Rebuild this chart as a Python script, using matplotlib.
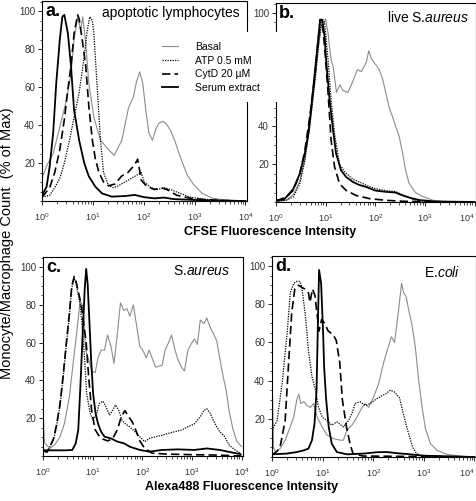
import numpy as np
import matplotlib.pyplot as plt
from matplotlib.ticker import LogLocator, MultipleLocator, NullFormatter

plt.rcParams['font.family'] = ['Liberation Sans', 'DejaVu Sans']
plt.rcParams['mathtext.fontset'] = 'custom'
plt.rcParams['mathtext.rm'] = 'Liberation Sans'
plt.rcParams['mathtext.it'] = 'Liberation Sans:italic'
plt.rcParams['mathtext.default'] = 'regular'

series_labels = ["Basal", "ATP 0.5 mM", "CytD 20 \u00b5M", "Serum extract"]
panel_letters = ["a.", "b.", "c.", "d."]
x_ticks = [1, 10, 100, 1000, 10000]

# all x values are log10 of fluorescence intensity, y is % of max
# ---- panel a: apoptotic lymphocytes (CFSE)
a_basal_lx = [0, 0.1, 0.22, 0.35, 0.48, 0.57, 0.63, 0.70, 0.76, 0.8, 0.86, 0.92, 1.02, 1.15, 1.31, 1.42, 1.57, 1.70,
              1.80, 1.85, 1.92, 1.98, 2.04, 2.1, 2.17, 2.24, 2.3, 2.38, 2.46, 2.53, 2.62, 2.72, 2.85, 2.97, 3.15, 3.35, 3.6, 4.0]
a_basal_y = [12, 19, 25, 39, 53, 67, 85, 97, 90, 97, 83, 62, 44, 32, 27, 24, 32, 49,
             55, 62, 68, 62, 48, 36, 32, 38, 41, 42, 40, 37, 31, 23, 14, 9, 4, 1.5, 0.5, 0]
a_atp_lx = [0, 0.15, 0.25, 0.35, 0.44, 0.54, 0.63, 0.73, 0.83, 0.89, 0.94, 0.99, 1.02, 1.08, 1.15, 1.21, 1.31, 1.40,
            1.5, 1.63, 1.76, 1.95, 2.01, 2.14, 2.27, 2.40, 2.53, 2.72, 2.91, 3.17, 3.5, 4.0]
a_atp_y = [2, 3, 7, 12, 20, 32, 44, 57, 76, 90, 97, 95, 88, 62, 32, 15, 8, 7,
           8, 10, 12, 15, 10, 7, 6, 7, 6, 4, 2, 1, 0.3, 0]
a_cytd_lx = [0, 0.15, 0.25, 0.35, 0.44, 0.5, 0.57, 0.63, 0.70, 0.73, 0.79, 0.86, 0.92, 0.99, 1.05, 1.12, 1.21, 1.31,
             1.44, 1.56, 1.69, 1.82, 1.88, 1.92, 1.95, 2.05, 2.21, 2.33, 2.46, 2.65, 2.91, 3.17, 3.5, 4.0]
a_cytd_y = [2, 7, 15, 27, 43, 57, 71, 88, 98, 96, 85, 71, 50, 32, 22, 15, 10, 8,
            9, 13, 15, 19, 22, 16, 11, 8, 6, 7, 6, 3, 1.5, 0.8, 0.3, 0]
a_serum_lx = [0, 0.09, 0.15, 0.22, 0.28, 0.35, 0.40, 0.44, 0.51, 0.57, 0.63, 0.73, 0.83, 0.92, 1.05, 1.18, 1.37,
              1.63, 1.82, 2.01, 2.21, 2.40, 2.59, 3.04, 3.5, 4.0]
a_serum_y = [3, 7.5, 18, 36, 62, 85, 97, 98, 88, 71, 48, 32, 20, 13, 7.5, 4, 2.3,
             2.6, 3.2, 2, 1.4, 1.8, 1, 0.5, 0.2, 0]

# ---- panel b: live S.aureus (CFSE)
b_basal_lx = [0, 0.21, 0.35, 0.48, 0.58, 0.68, 0.78, 0.85, 0.91, 0.96, 1.0, 1.05, 1.11, 1.15, 1.22, 1.29, 1.35, 1.45,
              1.55, 1.64, 1.72, 1.82, 1.87, 1.92, 1.97, 2.03, 2.08, 2.15, 2.21, 2.28, 2.35, 2.41, 2.48, 2.55, 2.61,
              2.68, 2.81, 2.95, 3.15, 3.35, 4.0]
b_basal_y = [0, 1, 4, 11, 22, 40, 63, 81, 93, 94, 97, 89, 75, 72, 58, 62, 59, 58,
             64, 70, 69, 74, 80, 76, 74, 72, 70, 65, 58, 50, 45, 40, 35, 26, 17,
             10, 5, 3, 1, 0.3, 0]
b_atp_lx = [0, 0.21, 0.35, 0.48, 0.58, 0.68, 0.78, 0.87, 0.93, 0.98, 1.05, 1.11, 1.18, 1.28, 1.38, 1.55, 1.68, 1.85,
            2.01, 2.21, 2.41, 2.61, 2.81, 3.08, 4.0]
b_atp_y = [0.5, 1, 2.7, 9.7, 22, 40, 63, 86, 97, 95, 75, 54, 36, 20, 16, 12, 10.6, 8.5,
           7, 6, 5.5, 3, 1, 0, 0]
b_cytd_lx = [0, 0.21, 0.35, 0.48, 0.58, 0.68, 0.78, 0.85, 0.89, 0.93, 0.98, 1.05, 1.11, 1.18, 1.28, 1.41, 1.61, 1.88,
             2.21, 2.55, 3.0, 4.0]
b_cytd_y = [0.5, 2.7, 6.2, 15, 27, 45, 66, 86, 96.5, 95.6, 82, 57.5, 32.7, 18.6, 9.7, 6.2, 3.5, 1.8,
            0.9, 0.4, 0.1, 0]
b_serum_lx = [0, 0.15, 0.21, 0.35, 0.48, 0.58, 0.65, 0.71, 0.78, 0.85, 0.89, 0.93, 0.98, 1.01, 1.08, 1.15, 1.21, 1.31,
              1.41, 1.55, 1.68, 1.81, 2.01, 2.21, 2.41, 2.53, 2.73, 2.9, 3.2, 4.0]
b_serum_y = [0.9, 1.2, 2.7, 7, 15, 25.7, 36, 50, 68, 86, 96.5, 96.5, 87.6, 75, 54, 38, 25.7, 16.8,
             13.3, 10.6, 9, 8, 6, 5.4, 5, 3.7, 2, 1, 0.3, 0]

# ---- panel c: S.aureus (Alexa488)
c_basal_lx = [0, 0.03, 0.14, 0.24, 0.34, 0.43, 0.53, 0.59, 0.66, 0.72, 0.75, 0.79, 0.82, 0.86, 0.92, 0.98, 1.05, 1.11,
              1.17, 1.24, 1.30, 1.37, 1.43, 1.50, 1.56, 1.63, 1.69, 1.75, 1.82, 1.88, 1.95, 2.01, 2.08, 2.14, 2.21,
              2.27, 2.40, 2.46, 2.53, 2.59, 2.66, 2.72, 2.79, 2.85, 2.92, 2.98, 3.05, 3.11, 3.17, 3.24, 3.30, 3.37,
              3.43, 3.50, 3.56, 3.63, 3.69, 3.75, 3.82, 3.9, 4.0]
c_basal_y = [25, 7, 4, 6, 10, 17, 31, 45, 61, 75, 82, 80, 74, 56, 51, 45, 44, 52,
             56, 56, 64, 58, 49, 65, 81, 77, 78, 74, 80, 70, 58, 56, 52, 56, 51,
             47, 48, 56, 60, 64, 56, 51, 47, 45, 56, 59, 62, 59, 72, 70, 73, 68,
             65, 61, 52, 42, 35, 24, 15, 8, 5]
c_atp_lx = [0, 0.08, 0.14, 0.21, 0.27, 0.34, 0.40, 0.46, 0.53, 0.58, 0.63, 0.67, 0.72, 0.75, 0.79, 0.84, 0.88, 0.95,
            1.01, 1.08, 1.14, 1.21, 1.27, 1.34, 1.40, 1.46, 1.53, 1.59, 1.66, 1.72, 1.82, 1.95, 2.05, 2.14, 2.27,
            2.40, 2.53, 2.66, 2.79, 2.92, 3.05, 3.17, 3.24, 3.30, 3.37, 3.43, 3.50, 3.56, 3.66, 3.75, 3.88, 3.98]
c_atp_y = [3, 2, 5, 8.5, 15.5, 26, 40, 56, 74, 89, 94, 91, 84, 80, 68, 51, 33, 22.5,
           19, 22.5, 28, 29, 26, 21.7, 24, 27, 24, 19, 17, 16, 13.7, 10.2, 7.6, 9.3, 10.2,
           11, 12, 12.9, 13.7, 15.5, 17, 20.8, 24, 25, 22.5, 19, 15.5, 12.9, 10.2, 5.8, 3, 1.4]
c_cytd_lx = [0, 0.08, 0.14, 0.21, 0.27, 0.34, 0.40, 0.46, 0.53, 0.58, 0.63, 0.67, 0.72, 0.77, 0.82, 0.87, 0.92, 0.98,
             1.05, 1.12, 1.2, 1.3, 1.4, 1.5, 1.58, 1.65, 1.72, 1.8, 1.88, 1.95, 2.05, 2.2, 2.5, 3.0, 3.5, 4.0]
c_cytd_y = [3, 2, 5, 9, 16, 27, 41, 57, 75, 90, 95, 92, 86, 80, 70, 60, 42, 24,
            14, 11, 9, 8, 9, 14, 21, 24, 21, 18, 13, 8, 4, 1.5, 1, 0.7, 0.5, 0]
c_serum_lx = [0, 0.14, 0.46, 0.59, 0.66, 0.71, 0.75, 0.8, 0.84, 0.87, 0.90, 0.93, 0.97, 1.01, 1.06, 1.11, 1.17, 1.24,
              1.37, 1.5, 1.63, 1.75, 1.95, 2.14, 2.40, 2.72, 3.05, 3.30, 3.56, 3.82, 3.98]
c_serum_y = [3, 3, 3, 3.2, 6.7, 13.7, 35, 65, 88, 99, 91, 74, 51, 33, 22.5, 17, 12.9, 10.2,
             9.3, 7.6, 6.7, 4.9, 3.2, 2.3, 3.2, 3.5, 3.2, 4, 3.2, 1.8, 1]

# ---- panel d: E.coli (Alexa488)
d_basal_lx = [0, 0.03, 0.07, 0.16, 0.26, 0.36, 0.43, 0.49, 0.53, 0.57, 0.63, 0.69, 0.76, 0.82, 0.89, 0.99, 1.09, 1.22,
              1.35, 1.41, 1.48, 1.58, 1.68, 1.78, 1.84, 1.91, 2.01, 2.11, 2.20, 2.30, 2.36, 2.42, 2.46, 2.50, 2.56,
              2.60, 2.65, 2.70, 2.76, 2.83, 2.89, 2.96, 3.03, 3.13, 3.26, 3.45, 3.78, 4.0]
d_basal_y = [47, 5, 2.6, 4.4, 8.8, 15.8, 21, 30, 33, 28, 29, 27, 26, 28, 21, 15.8, 11.4, 9.6,
             8.8, 8.8, 14, 16.7, 21, 26, 28, 26, 31.6, 38.6, 49, 58, 63, 60, 68, 77, 91,
             86, 84, 77, 70, 58, 42, 27, 15, 7, 3.5, 1.4, 0.3, 0]
d_atp_lx = [0, 0.10, 0.20, 0.30, 0.36, 0.43, 0.49, 0.55, 0.59, 0.66, 0.72, 0.79, 0.86, 0.92, 0.99, 1.09, 1.18, 1.28,
            1.41, 1.51, 1.58, 1.64, 1.74, 1.84, 1.94, 2.04, 2.14, 2.24, 2.34, 2.42, 2.52, 2.59, 2.68, 2.78, 2.85,
            2.95, 3.2, 4.0]
d_atp_y = [14, 19, 38.6, 65, 86, 91, 92, 92, 89, 74, 56, 42, 35, 26, 21, 19, 16.7, 18.4,
           15.8, 19, 22.8, 28, 29, 27, 28, 30, 31.6, 33, 35, 34, 31, 23, 14, 5, 2,
           0.5, 0, 0]
d_cytd_lx = [0, 0.1, 0.16, 0.26, 0.32, 0.39, 0.45, 0.52, 0.58, 0.65, 0.72, 0.75, 0.80, 0.85, 0.88, 0.93, 0.98, 1.04,
             1.11, 1.21, 1.27, 1.34, 1.39, 1.47, 1.54, 1.60, 1.8, 4.0]
d_cytd_y = [1, 3, 5.3, 19, 45.7, 75.7, 88, 90, 89, 88, 86, 81, 88, 84.5, 77, 66, 72, 70,
            66, 64, 61, 49, 30, 16, 7, 1.8, 0.5, 0]
d_serum_lx = [0, 0.30, 0.49, 0.63, 0.72, 0.79, 0.84, 0.88, 0.91, 0.93, 0.97, 1.01, 1.03, 1.07, 1.12, 1.18, 1.28, 1.48,
              1.81, 2.07, 2.27, 2.47, 2.73, 2.99, 4.0]
d_serum_y = [1.4, 1.8, 2.6, 3.5, 4.4, 8.8, 17.5, 35, 74, 98, 91, 65, 47, 30, 15.8, 7, 2.6, 1.4,
             1.8, 2.5, 2.6, 2, 1.4, 0.7, 0]

panels = [
    (a_basal_lx, a_basal_y, a_atp_lx, a_atp_y, a_cytd_lx, a_cytd_y, a_serum_lx, a_serum_y),
    (b_basal_lx, b_basal_y, b_atp_lx, b_atp_y, b_cytd_lx, b_cytd_y, b_serum_lx, b_serum_y),
    (c_basal_lx, c_basal_y, c_atp_lx, c_atp_y, c_cytd_lx, c_cytd_y, c_serum_lx, c_serum_y),
    (d_basal_lx, d_basal_y, d_atp_lx, d_atp_y, d_cytd_lx, d_cytd_y, d_serum_lx, d_serum_y),
]

styles = [
    dict(color="#8c8c8c", lw=0.8, ls="-"),
    dict(color="black", lw=0.9, ls=(0, (1, 1))),
    dict(color="black", lw=1.2, ls=(0, (5, 2.5))),
    dict(color="black", lw=1.3, ls="-"),
]

W, H = 477, 501
fig = plt.figure(figsize=(W / 100, H / 100), dpi=100)


def add_ax(l, t, r, b):
    return fig.add_axes([l / W, 1 - b / H, (r - l) / W, (b - t) / H])


axes = [add_ax(42, 1, 247, 201), add_ax(276, 3, 476, 202),
        add_ax(43, 257, 243, 456), add_ax(272, 256, 476, 457)]

for i, (ax, data, letter) in enumerate(zip(axes, panels, panel_letters)):
    for k in range(4):
        lx = np.array(data[2 * k])
        y = np.array(data[2 * k + 1])
        ax.plot(10 ** lx, y, label=series_labels[k], **styles[k])
    ax.set_xscale("log")
    ax.set_xlim(1, 10 ** 4.03)
    ax.set_ylim(0, 105.3)
    ax.set_xticks(x_ticks)
    ax.xaxis.set_minor_locator(LogLocator(base=10, subs=np.arange(2, 10), numticks=20))
    ax.xaxis.set_minor_formatter(NullFormatter())
    ax.set_yticks([20, 40, 60, 80, 100])
    ax.yaxis.set_minor_locator(MultipleLocator(5))
    ax.tick_params(which="major", direction="out", length=3, width=0.6,
                   labelcolor="#333333", pad=2)
    ax.tick_params(axis="x", which="major", labelsize=6.5, pad=4.5)
    ax.tick_params(axis="y", which="major", labelsize=7)
    ax.tick_params(which="minor", direction="out", length=1.8, width=0.5)
    for s in ax.spines.values():
        s.set_linewidth(0.8)
    ax.text(0.015, 0.99, letter, transform=ax.transAxes, ha="left", va="top",
            fontsize=13, fontweight="bold")
    if i in (1, 3):
        # keep the 10^4 label inside the figure edge
        ax.xaxis.get_major_ticks()[-1].label1.set_horizontalalignment("right")
        ax.xaxis.get_major_ticks()[-1].label1.set_x(1.0)

axes[0].text(0.965, 0.975, "apoptotic lymphocytes", transform=axes[0].transAxes,
             ha="right", va="top", fontsize=10)
axes[1].text(0.965, 0.965, "live S.$\\it{aureus}$", transform=axes[1].transAxes,
             ha="right", va="top", fontsize=10)
axes[2].text(0.935, 0.965, "S.$\\it{aureus}$", transform=axes[2].transAxes,
             ha="right", va="top", fontsize=10)
axes[3].text(0.925, 0.955, "E.$\\it{coli}$", transform=axes[3].transAxes,
             ha="right", va="top", fontsize=10)

handles, labels = axes[0].get_legend_handles_labels()
leg = fig.legend(handles, labels, loc="upper left", mode="expand",
                 bbox_to_anchor=(153 / W, 1 - 33 / H, 125 / W, 0.001),
                 fontsize=7.5, frameon=True, facecolor="white", edgecolor="none",
                 framealpha=1, fancybox=False, borderpad=0.9, borderaxespad=0,
                 handlelength=1.5, handletextpad=1.6, labelspacing=0.35)
leg.set_zorder(10)

fig.text(270 / W, 1 - 232 / H, "CFSE Fluorescence Intensity", ha="center", va="center",
         fontsize=9, fontweight="bold")
fig.text(242 / W, 1 - 487 / H, "Alexa488 Fluorescence Intensity", ha="center", va="center",
         fontsize=9, fontweight="bold")
fig.text(7 / W, 1 - 243 / H, "Monocyte/Macrophage Count  (% of Max)", ha="center", va="center",
         rotation=90, fontsize=10.5)

fig.savefig("out.png", dpi=100)
